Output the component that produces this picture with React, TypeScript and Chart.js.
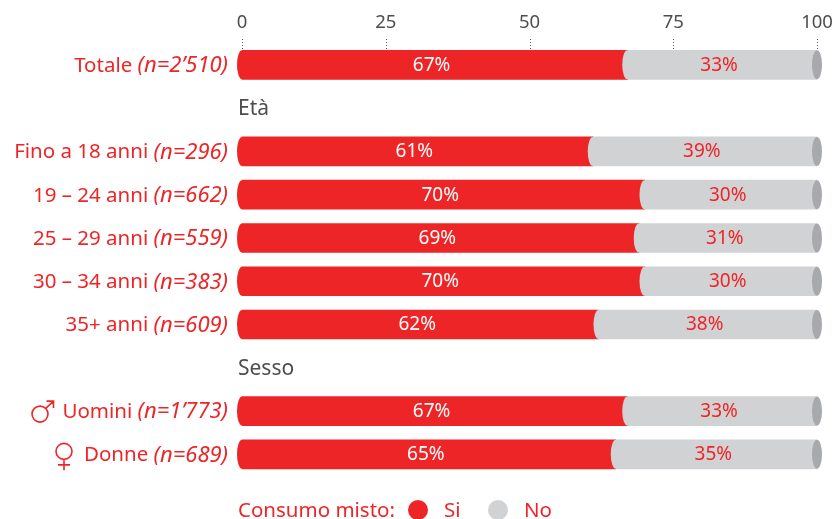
import React, { useEffect, useRef } from "react";
import { Chart, registerables } from "chart.js";

Chart.register(...registerables);

const categories = ["Totale", "Età", "Fino a 18 anni", "19 – 24 anni", "25 – 29 anni", "30 – 34 anni", "35+ anni", "Sesso", "Uomini", "Donne"];
const sampleSizes = ["n=2’510", "", "n=296", "n=662", "n=559", "n=383", "n=609", "", "n=1’773", "n=689"];
const yesValues = [67, null, 61, 70, 69, 70, 62, null, 67, 65];
const noValues = [33, null, 39, 30, 31, 30, 38, null, 33, 35];
const xTicks = [0, 25, 50, 75, 100];
const legendTitle = "Consumo misto:";
const yesLabel = "Si";
const noLabel = "No";

const RED = "#ee2527";
const GREY = "#d1d2d4";
const DARK = "#a7a9ac";
const TEXT = "#4d4d4f";
const FONT = '"Noto Sans", sans-serif';

const decor = {
  id: "decor",
  afterDatasetsDraw(chart: any) {
    const { ctx, scales } = chart;
    const x = scales.x;
    const y = scales.y;
    const rx = 5;
    ctx.save();
    // dotted tick marks
    ctx.strokeStyle = "#58595b";
    ctx.lineWidth = 1;
    ctx.setLineDash([1, 2]);
    xTicks.forEach((t) => {
      const px = Math.round(x.getPixelForValue(t)) + 0.5;
      ctx.beginPath();
      ctx.moveTo(px, 39);
      ctx.lineTo(px, 50);
      ctx.stroke();
    });
    ctx.setLineDash([]);

    const yesMeta = chart.getDatasetMeta(0);
    const noMeta = chart.getDatasetMeta(1);
    const ell = (cx: number, cy: number, h: number, col: string) => {
      ctx.fillStyle = col;
      ctx.beginPath();
      ctx.ellipse(cx, cy, rx, h / 2, 0, 0, Math.PI * 2);
      ctx.fill();
    };
    categories.forEach((name, i) => {
      const cy = y.getPixelForValue(i);
      if (yesValues[i] === null) {
        ctx.fillStyle = TEXT;
        ctx.font = `21px ${FONT}`;
        ctx.textAlign = "left";
        ctx.textBaseline = "middle";
        ctx.fillText(name, 238, cy + 1);
        return;
      }
      const a = yesMeta.data[i];
      const b = noMeta.data[i];
      const h = a.height;
      ell(x.getPixelForValue(0), cy, h, RED);
      ell(a.x, cy, h, GREY);
      ell(b.x, cy, h, DARK);

      ctx.textBaseline = "middle";
      ctx.textAlign = "center";
      ctx.font = `19px ${FONT}`;
      ctx.fillStyle = "#ffffff";
      ctx.fillText(`${yesValues[i]}%`, (x.getPixelForValue(0) + a.x) / 2 - 3, cy + 0.5);
      ctx.fillStyle = RED;
      ctx.fillText(`${noValues[i]}%`, (a.x + b.x) / 2 - 3, cy + 0.5);

      // row label: plain name + italic sample size
      ctx.textAlign = "left";
      ctx.font = `italic 22px ${FONT}`;
      const nTxt = `(${sampleSizes[i]})`;
      const nW = ctx.measureText(nTxt).width;
      ctx.font = `20.5px ${FONT}`;
      const nameTxt = `${name} `;
      const nameW = ctx.measureText(nameTxt).width;
      const right = 228;
      const start = right - nW - nameW;
      ctx.fillStyle = RED;
      ctx.fillText(nameTxt, start, cy + 1);
      ctx.font = `italic 22px ${FONT}`;
      ctx.fillText(nTxt, right - nW, cy + 1);

      // sex symbols
      ctx.strokeStyle = RED;
      ctx.lineWidth = 1.6;
      if (name === "Uomini") {
        const sx = 40;
        const sy = cy + 3;
        ctx.beginPath();
        ctx.arc(sx, sy, 8, 0, Math.PI * 2);
        ctx.moveTo(sx + 6, sy - 6);
        ctx.lineTo(sx + 13.5, sy - 13);
        ctx.moveTo(sx + 6.5, sy - 13);
        ctx.lineTo(sx + 13.5, sy - 13);
        ctx.lineTo(sx + 13.5, sy - 6);
        ctx.stroke();
      }
      if (name === "Donne") {
        const sx = 64;
        const sy = cy - 3;
        ctx.beginPath();
        ctx.arc(sx, sy, 8, 0, Math.PI * 2);
        ctx.moveTo(sx, sy + 8);
        ctx.lineTo(sx, sy + 19);
        ctx.moveTo(sx - 6, sy + 13.5);
        ctx.lineTo(sx + 6, sy + 13.5);
        ctx.stroke();
      }
    });

    // legend
    const ly = 510;
    ctx.font = `20.5px ${FONT}`;
    ctx.textAlign = "left";
    ctx.textBaseline = "middle";
    ctx.fillStyle = RED;
    ctx.fillText(legendTitle, 238, ly + 1);
    ctx.fillText(yesLabel, 444, ly + 1);
    ctx.fillText(noLabel, 524, ly + 1);
    ctx.fillStyle = RED;
    ctx.beginPath();
    ctx.arc(418, ly, 10, 0, Math.PI * 2);
    ctx.fill();
    ctx.fillStyle = GREY;
    ctx.beginPath();
    ctx.arc(498, ly, 10, 0, Math.PI * 2);
    ctx.fill();
    ctx.restore();
  },
};

export default function App() {
  const ref = useRef<HTMLCanvasElement>(null);
  useEffect(() => {
    const chart = new Chart(ref.current as HTMLCanvasElement, {
      type: "bar",
      data: {
        labels: categories,
        datasets: [
          { label: yesLabel, data: yesValues, backgroundColor: RED, barThickness: 29, stack: "s" },
          { label: noLabel, data: noValues, backgroundColor: GREY, barThickness: 29, stack: "s" },
        ],
      },
      options: {
        indexAxis: "y",
        responsive: false,
        animation: false,
        layout: { padding: { left: 242, right: 15, top: 0, bottom: 43 } },
        plugins: { legend: { display: false }, tooltip: { enabled: false } },
        scales: {
          x: {
            position: "top",
            min: 0,
            max: 100,
            stacked: true,
            afterFit: (s: any) => {
              s.height = 43.2;
              s.paddingLeft = 0;
              s.paddingRight = 0;
            },
            afterBuildTicks: (s: any) => {
              s.ticks = xTicks.map((value) => ({ value }));
            },
            border: { display: false },
            grid: { display: false, drawTicks: false },
            ticks: { color: TEXT, padding: 9, maxRotation: 0, font: { family: "Noto Sans", size: 18.5 } },
          },
          y: { display: false, stacked: true },
        },
      },
      plugins: [decor],
    } as any);
    return () => chart.destroy();
  }, []);
  return (
    <div style={{ position: "fixed", left: 0, top: 0, width: 832, height: 519, background: "#fff" }}>
      <canvas ref={ref} width={832} height={519} style={{ display: "block" }} />
    </div>
  );
}
